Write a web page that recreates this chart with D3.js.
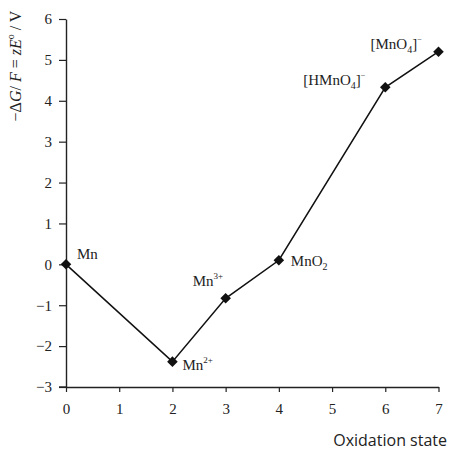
<!DOCTYPE html>
<html>
<head>
<meta charset="utf-8">
<script src="https://cdn.jsdelivr.net/npm/d3@7"></script>
<style>
body{margin:0;background:#fff;}
</style>
</head>
<body>
<svg id="chart" width="449" height="456"></svg>
<script>
var states=[0,2,3,4,6,7];
var volts=[0,-2.38,-0.83,0.1,4.33,5.2];
var species=["Mn","Mn2+","Mn3+","MnO2","[HMnO4]-","[MnO4]-"];
var xTicks=[0,1,2,3,4,5,6,7];
var yTicks=[-3,-2,-1,0,1,2,3,4,5,6];

var serif="'Liberation Serif','DejaVu Serif',serif";
var svg=d3.select("#chart").style("font-family",serif);
var x=d3.scaleLinear().domain([0,7]).range([66,438.5]);
var y=d3.scaleLinear().domain([-3,6]).range([387,19]);

// axes
var gx=svg.append("g").attr("transform","translate(0,"+y(-3)+")")
  .call(d3.axisBottom(x).tickValues(xTicks).tickFormat(d3.format("d")).tickSizeInner(5).tickSizeOuter(0).tickPadding(11));
var gy=svg.append("g").attr("transform","translate("+x(0)+",0)")
  .call(d3.axisLeft(y).tickValues(yTicks).tickFormat(function(d){return d<0?"\u2212"+(-d):d;}).tickSizeInner(7).tickSizeOuter(0).tickPadding(7));
[gx,gy].forEach(function(g){
  g.attr("font-family",null);
  g.select(".domain").attr("stroke","#222").attr("stroke-width",1.4);
  g.selectAll(".tick line").attr("stroke","#222").attr("stroke-width",1.2);
  g.selectAll(".tick text").attr("fill","#222").attr("font-size","15px");
});
// extend x axis a bit to the left of the y axis
svg.append("line").attr("x1",x(0)-7).attr("x2",x(0)).attr("y1",y(-3)).attr("y2",y(-3)).attr("stroke","#222").attr("stroke-width",1.4);

// line and markers
var pts=states.map(function(s,i){return [x(s),y(volts[i])];});
svg.append("path").attr("d",d3.line()(pts)).attr("fill","none").attr("stroke","#111").attr("stroke-width",1.5);
svg.selectAll("path.pt").data(pts).enter().append("path").attr("class","pt")
  .attr("transform",function(d){return "translate("+d[0]+","+d[1]+") rotate(45)";})
  .attr("d",d3.symbol().type(d3.symbolSquare).size(56)).attr("fill","#111");

// species labels
var offs=[[11,-5],[10,8],[-33,-12],[12,6],[-82,-2],[-68,-3]];
species.forEach(function(s,i){
  var t=svg.append("text").attr("x",pts[i][0]+offs[i][0]).attr("y",pts[i][1]+offs[i][1])
    .attr("font-size","15px").attr("fill","#222");
  var m=s.match(/^(\[?H?MnO?)(\d?)(\]?)(.*)$/);
  if(s.indexOf("O")>=0){
    t.append("tspan").text(m[1]);
    t.append("tspan").text(m[2]).attr("font-size","10px").attr("dy",4);
    t.append("tspan").text(m[3]).attr("dy",-4);
    if(m[4]) t.append("tspan").text("\u2212").attr("font-size","8px").attr("dy",-7);
  } else {
    t.append("tspan").text("Mn");
    if(s.length>2) t.append("tspan").text(s.slice(2)).attr("font-size","9px").attr("dy",-7);
  }
});

// axis titles
svg.append("text").attr("transform","translate(21,66) rotate(-90)").attr("text-anchor","middle")
  .attr("font-size","16px").attr("fill","#222")
  .html('\u2212\u0394<tspan font-style="italic">G</tspan>/ <tspan font-style="italic">F</tspan> = <tspan font-style="italic">zE</tspan><tspan font-size="10px" dy="-7">o</tspan><tspan dy="7"> / V</tspan>');
svg.append("text").attr("x",447).attr("y",446).attr("text-anchor","end")
  .style("font-family","'Open Sans',sans-serif").attr("font-size","16px").attr("fill","#222").text("Oxidation state");
</script>
</body>
</html>
